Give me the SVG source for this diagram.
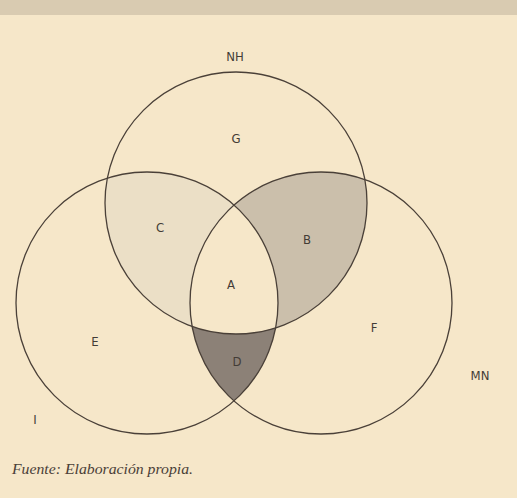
<svg xmlns="http://www.w3.org/2000/svg" width="517" height="498" viewBox="0 0 517 498">
<style>
.c{fill:none;stroke:#4a4038;stroke-width:1.3}
.l{font-family:"DejaVu Sans Condensed","Liberation Sans",sans-serif;font-size:13px;fill:#433c36;text-anchor:middle}
.cap{font-family:"Liberation Serif",serif;font-style:italic;font-size:15px;fill:#4a4038}
</style>
<defs>
<clipPath id="clipL"><circle cx="147" cy="303" r="131"/></clipPath>
<clipPath id="clipR"><circle cx="321" cy="303" r="131"/></clipPath>
</defs>
<rect width="517" height="498" fill="#f6e7c9"/>
<rect width="517" height="15" fill="#d9cbb1"/>
<g id="regions">
<g clip-path="url(#clipL)"><circle cx="236" cy="203" r="131" fill="#ebdfc6"/></g>
<g clip-path="url(#clipR)"><circle cx="236" cy="203" r="131" fill="#cbbfab"/></g>
<g clip-path="url(#clipL)"><circle cx="321" cy="303" r="131" fill="#8c8177"/></g>
<g clip-path="url(#clipL)"><g clip-path="url(#clipR)"><circle cx="236" cy="203" r="131" fill="#f6e7c9"/></g></g>
</g>
<g id="NH"><circle class="c" cx="236" cy="203" r="131"/><text class="l" x="235" y="61">NH</text></g>
<g id="I"><circle class="c" cx="147" cy="303" r="131"/><text class="l" x="35" y="424">I</text></g>
<g id="MN"><circle class="c" cx="321" cy="303" r="131"/><text class="l" x="480" y="380">MN</text></g>
<g id="labels">
<text class="l" x="236" y="143">G</text>
<text class="l" x="160" y="232">C</text>
<text class="l" x="307" y="244">B</text>
<text class="l" x="231" y="289">A</text>
<text class="l" x="95" y="346">E</text>
<text class="l" x="237" y="366">D</text>
<text class="l" x="374" y="332">F</text>
</g>
<text class="cap" x="12" y="474" textLength="181" lengthAdjust="spacingAndGlyphs">Fuente: Elaboración propia.</text>
</svg>
